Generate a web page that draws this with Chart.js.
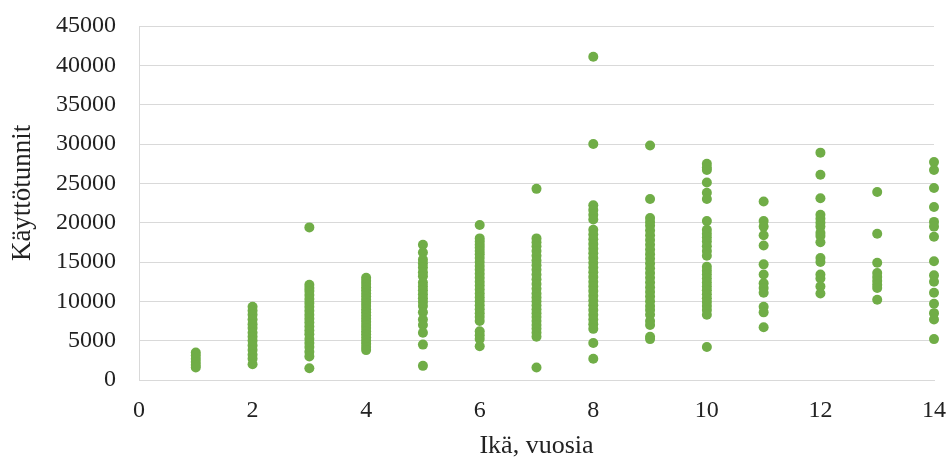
<!DOCTYPE html>
<html lang="fi">
<head>
<meta charset="utf-8">
<title>Käyttötunnit iän mukaan</title>
<script src="https://cdn.jsdelivr.net/npm/chart.js@4.4.1/dist/chart.umd.min.js"></script>
<style>
  html, body { margin: 0; padding: 0; background: #fff; }
  #wrap { width: 951px; height: 459px; }
</style>
</head>
<body>
<div id="wrap"><canvas id="kayttoChart" width="951" height="459"></canvas></div>
<script>
// ----------------------------------------------------------------------
// Data: käyttötunnit per ikä (vuosia), luettu kuvasta
// ----------------------------------------------------------------------
const ika = [1, 2, 3, 4, 5, 6, 7, 8, 9, 10, 11, 12, 13, 14];

const tunnit1 = [3500, 3100, 2700, 2300, 1900, 1600];
const tunnit2 = [9300, 8800, 8300, 7700, 7100, 6600, 6000, 5500, 5000, 4400, 3800, 3200, 2700, 2000];
const tunnit3 = [19400, 12100, 11700, 11300, 10800, 10300, 9800, 9300, 8800, 8300, 7800, 7300, 6800,
  6300, 5800, 5200, 4700, 4200, 3600, 3000, 1500];
const tunnit4 = [13000, 12600, 12200, 11800, 11400, 11000, 10600, 10200, 9800, 9400, 9000, 8600, 8200,
  7800, 7400, 7000, 6600, 6200, 5800, 5400, 5000, 4600, 4200, 3800];
const tunnit5 = [17200, 16200, 15300, 14800, 14300, 13700, 13200, 12400, 11900, 11400, 10900, 10400,
  9900, 9400, 8600, 7700, 7000, 6000, 4500, 1800];
const tunnit6 = [19700, 18000, 17600, 17200, 16800, 16400, 16000, 15500, 15000, 14500, 14000, 13500,
  13000, 12500, 12000, 11500, 11000, 10500, 10000, 9500, 9000, 8500, 8000, 7500, 6200, 5700, 5200, 4300];
const tunnit7 = [24300, 18000, 17500, 17000, 16400, 15800, 15200, 14600, 14000, 13400, 12800, 12200,
  11600, 11000, 10500, 10000, 9500, 9000, 8500, 8000, 7500, 7000, 6500, 6000, 5500, 1600];
const tunnit8 = [41100, 30000, 22200, 21600, 21000, 20400, 19100, 18500, 17900, 17300, 16700, 16100,
  15500, 14900, 14300, 13700, 13100, 12500, 11900, 11300, 10700, 10100, 9500, 8900, 8300, 7700, 7100,
  6500, 4700, 2700];
const tunnit9 = [29800, 23000, 20600, 20100, 19600, 19000, 18400, 17800, 17200, 16600, 16000, 15400,
  14800, 14200, 13600, 13000, 12400, 11800, 11200, 10600, 10000, 9400, 8900, 8300, 7500, 7000, 5500, 5200];
const tunnit10 = [27500, 27000, 26700, 25100, 23800, 23000, 20200, 19100, 18600, 18100, 17600, 17000,
  16400, 15800, 14400, 13900, 13400, 12900, 12400, 11900, 11400, 10900, 10400, 9900, 9400, 8900, 8300, 4200];
const tunnit11 = [22700, 20200, 19500, 18400, 17100, 14700, 13400, 12300, 11700, 11100, 9300, 8600, 6700];
const tunnit12 = [28900, 26100, 23100, 21000, 20500, 20000, 19500, 18700, 18300, 17500, 15500, 15000,
  13400, 12900, 11900, 11000];
const tunnit13 = [23900, 18600, 14900, 13600, 13100, 12600, 12100, 11700, 10200];
const tunnit14 = [27700, 26700, 24400, 22000, 20100, 19500, 18200, 15100, 13300, 12500, 11100, 9700,
  8500, 7700, 5200];

const tunnitPerIka = [tunnit1, tunnit2, tunnit3, tunnit4, tunnit5, tunnit6, tunnit7,
  tunnit8, tunnit9, tunnit10, tunnit11, tunnit12, tunnit13, tunnit14];

// akselien asetukset
const xMin = 0, xMax = 14, xStep = 2;
const yMin = 0, yMax = 45000, yStep = 5000;

const vihrea = "#70ad47";
const ruudukko = "#d9d9d9";
const fontti = "'Liberation Serif', 'Times New Roman', serif";

// pisteet scatter-muotoon
const pisteet = [];
ika.forEach((a, i) => {
  tunnitPerIka[i].forEach(h => pisteet.push({ x: a, y: h }));
});

const ctx = document.getElementById("kayttoChart").getContext("2d");

// huom: ticks.padding kasvattaa layoutin reunoja, joten väli tehdään
// näkymättömillä tick-viivoilla (tickLength) ja padding pidetään pienenä
new Chart(ctx, {
  type: "scatter",
  data: {
    datasets: [{
      label: "Käyttötunnit",
      data: pisteet,
      backgroundColor: vihrea,
      borderWidth: 0,
      pointRadius: 5,
      pointHoverRadius: 5,
      clip: false
    }]
  },
  options: {
    responsive: false,
    animation: false,
    devicePixelRatio: 1,
    layout: { autoPadding: false, padding: { top: 26, right: 17, left: 0, bottom: 0 } },
    plugins: {
      legend: { display: false },
      tooltip: { enabled: false }
    },
    scales: {
      x: {
        type: "linear",
        min: xMin,
        max: xMax,
        afterFit: s => { s.height = 79; },
        ticks: {
          stepSize: xStep,
          padding: 3,
          color: "#222",
          font: { family: fontti, size: 24 },
          callback: v => String(v)
        },
        grid: {
          drawOnChartArea: false,
          drawTicks: true,
          tickLength: 13,
          tickColor: "rgba(0,0,0,0)"
        },
        border: { display: true, color: ruudukko, width: 1 },
        title: {
          display: true,
          text: "Ikä, vuosia",
          color: "#222",
          padding: { top: 0, bottom: 0 },
          font: { family: fontti, size: 26, lineHeight: 1 }
        }
      },
      y: {
        min: yMin,
        max: yMax,
        afterFit: s => { s.width = 139; },
        ticks: {
          stepSize: yStep,
          padding: 3,
          color: "#222",
          font: { family: fontti, size: 24 },
          callback: v => String(v)
        },
        grid: {
          color: ruudukko,
          lineWidth: 1,
          drawTicks: true,
          tickLength: 20,
          tickColor: "rgba(0,0,0,0)"
        },
        border: { display: true, color: ruudukko, width: 1 },
        title: {
          display: true,
          // välilyönnit alussa siirtävät otsikkoa hieman ylöspäin
          text: "\u00a0\u00a0\u00a0Käyttötunnit",
          color: "#222",
          padding: { top: 7, bottom: 0 },
          font: { family: fontti, size: 27, lineHeight: 1.2 }
        }
      }
    }
  }
});
</script>
</body>
</html>
